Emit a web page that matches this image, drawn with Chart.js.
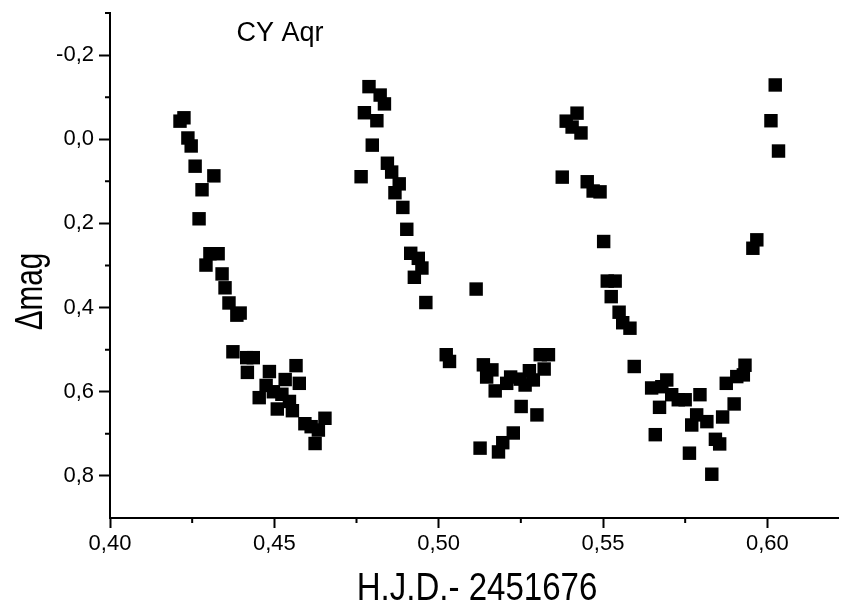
<!DOCTYPE html>
<html>
<head>
<meta charset="utf-8">
<script src="https://cdn.jsdelivr.net/npm/chart.js@4/dist/chart.umd.min.js"></script>
<style>
  body { margin: 0; background: #fff; }
</style>
</head>
<body>
<canvas id="lightCurve" width="841" height="606"></canvas>
<script>
// CY Aqr light curve
const hjd = [
  0.4213, 0.4225, 0.4237, 0.4247, 0.4259, 0.4316, 0.4280, 0.4271, 0.4292, 0.4304,
  0.4329, 0.4341, 0.4350, 0.4362, 0.4386, 0.4396, 0.4374, 0.4416, 0.4436, 0.4418,
  0.4485, 0.4566, 0.4533, 0.4576, 0.4475, 0.4454, 0.4497, 0.4523, 0.4546, 0.4509,
  0.4555, 0.4593, 0.4612, 0.4634, 0.4654, 0.4624,
  0.4788, 0.4822, 0.4835, 0.4774, 0.4812, 0.4798, 0.4844, 0.4857, 0.4764, 0.4880,
  0.4867, 0.4891, 0.4903, 0.4915, 0.4938, 0.4949, 0.4926, 0.4961, 0.5114, 0.5023,
  0.5033, 0.5136, 0.5162, 0.5146, 0.5219, 0.5207, 0.5248, 0.5276, 0.5321, 0.5288,
  0.5263, 0.5172, 0.5309, 0.5334, 0.5251, 0.5299, 0.5227, 0.5195, 0.5126, 0.5182,
  0.5388, 0.5406, 0.5421, 0.5433, 0.5376, 0.5452, 0.5470, 0.5491, 0.5502, 0.5513,
  0.5537, 0.5525, 0.5549, 0.5560, 0.5582, 0.5595, 0.5694, 0.5648, 0.5679, 0.5709,
  0.5729, 0.5750, 0.5795, 0.5672, 0.5785, 0.5770, 0.5816, 0.5864, 0.5899, 0.5875,
  0.5907, 0.5927, 0.5932, 0.5659, 0.5842, 0.5855, 0.5763, 0.5831, 0.5956, 0.5968,
  0.6011, 0.6024, 0.6034
];
const dmag = [
  -0.043, -0.051, -0.003, 0.016, 0.064, 0.087, 0.120, 0.189, 0.299, 0.272,
  0.272, 0.320, 0.353, 0.389, 0.418, 0.413, 0.505, 0.519, 0.519, 0.554,
  0.552, 0.538, 0.571, 0.580, 0.585, 0.614, 0.600, 0.606, 0.623, 0.641,
  0.645, 0.676, 0.683, 0.691, 0.663, 0.723,
  -0.125, -0.105, -0.084, -0.063, -0.044, 0.014, 0.057, 0.078, 0.089, 0.106,
  0.127, 0.162, 0.214, 0.271, 0.283, 0.306, 0.328, 0.388, 0.356, 0.512,
  0.528, 0.536, 0.548, 0.565, 0.565, 0.580, 0.570, 0.550, 0.546, 0.572,
  0.584, 0.598, 0.512, 0.512, 0.635, 0.655, 0.698, 0.721, 0.734, 0.743,
  -0.043, -0.029, -0.062, -0.015, 0.090, 0.101, 0.123, 0.125, 0.243, 0.337,
  0.337, 0.374, 0.411, 0.436, 0.449, 0.540, 0.572, 0.591, 0.588, 0.607,
  0.619, 0.619, 0.607, 0.637, 0.655, 0.679, 0.671, 0.660, 0.629, 0.580,
  0.564, 0.560, 0.537, 0.702, 0.713, 0.724, 0.746, 0.796, 0.259, 0.239,
  -0.044, -0.129, 0.028
];

const xTicks = [0.40, 0.45, 0.50, 0.55, 0.60];
const xTickLabels = ['0,40', '0,45', '0,50', '0,55', '0,60'];
const xMinor = [0.425, 0.475, 0.525, 0.575];
const yTicks = [-0.2, 0.0, 0.2, 0.4, 0.6, 0.8];
const yTickLabels = ['-0,2', '0,0', '0,2', '0,4', '0,6', '0,8'];
const yMinor = [-0.3, -0.1, 0.1, 0.3, 0.5, 0.7];
const xTitle = 'H.J.D.- 2451676';
const yTitle = 'Δmag';
const starName = 'CY Aqr';
const starLabelAt = [0.4385, -0.25];

const sans = '"Liberation Sans", Arial, sans-serif';

// minor ticks, the star name and the (condensed) axis titles
const extras = {
  id: 'extras',
  afterDraw(chart) {
    const { ctx, scales: { x, y } } = chart;
    ctx.save();
    ctx.strokeStyle = '#000';
    ctx.lineWidth = 2;
    ctx.beginPath();
    xMinor.forEach(v => {
      const px = x.getPixelForValue(v);
      ctx.moveTo(px, x.top);
      ctx.lineTo(px, x.top + 5);
    });
    yMinor.forEach(v => {
      const py = y.getPixelForValue(v);
      ctx.moveTo(y.right, py);
      ctx.lineTo(y.right - 5, py);
    });
    ctx.stroke();

    ctx.fillStyle = '#000';
    ctx.font = '27px ' + sans;
    ctx.textBaseline = 'middle';
    ctx.fillText(starName, x.getPixelForValue(starLabelAt[0]), y.getPixelForValue(starLabelAt[1]));

    ctx.textBaseline = 'alphabetic';
    ctx.textAlign = 'center';
    ctx.font = '38px ' + sans;
    ctx.save();
    ctx.translate(477, x.bottom - 6);
    ctx.scale(0.87, 1);
    ctx.fillText(xTitle, 0, 0);
    ctx.restore();

    ctx.save();
    ctx.translate(42, (y.top + y.bottom) / 2 + 26);
    ctx.rotate(-Math.PI / 2);
    ctx.scale(0.78, 1);
    ctx.fillText(yTitle, 0, 0);
    ctx.restore();
    ctx.restore();
  }
};

new Chart(document.getElementById('lightCurve'), {
  type: 'scatter',
  data: {
    datasets: [{
      data: hjd.map((v, i) => ({ x: v, y: dmag[i] })),
      pointStyle: 'rect',
      pointRadius: 9.5,
      backgroundColor: '#000',
      borderWidth: 0
    }]
  },
  options: {
    responsive: false,
    animation: false,
    layout: { autoPadding: false, padding: { top: 13, right: 3 } },
    plugins: { legend: { display: false }, tooltip: { enabled: false } },
    scales: {
      x: {
        type: 'linear',
        min: 0.40,
        max: 0.6215,
        afterFit: s => { s.height = 88; },
        afterBuildTicks: s => { s.ticks = xTicks.map(v => ({ value: v })); },
        border: { color: '#000', width: 2 },
        grid: { drawOnChartArea: false, tickLength: 10, tickColor: '#000', tickWidth: 2 },
        ticks: {
          color: '#000',
          padding: 3,
          maxRotation: 0,
          font: { family: sans, size: 22 },
          callback: (v, i) => xTickLabels[i]
        }
      },
      y: {
        type: 'linear',
        reverse: true,
        min: -0.3,
        max: 0.9,
        afterFit: s => { s.width = 110; s.paddingTop = 0; s.paddingBottom = 0; },
        afterBuildTicks: s => { s.ticks = yTicks.map(v => ({ value: v })); },
        border: { color: '#000', width: 2 },
        grid: { drawOnChartArea: false, tickLength: 11, tickColor: '#000', tickWidth: 2 },
        ticks: {
          color: '#000',
          padding: 5,
          font: { family: sans, size: 22 },
          callback: (v, i) => yTickLabels[i]
        }
      }
    }
  },
  plugins: [extras]
});
</script>
</body>
</html>
